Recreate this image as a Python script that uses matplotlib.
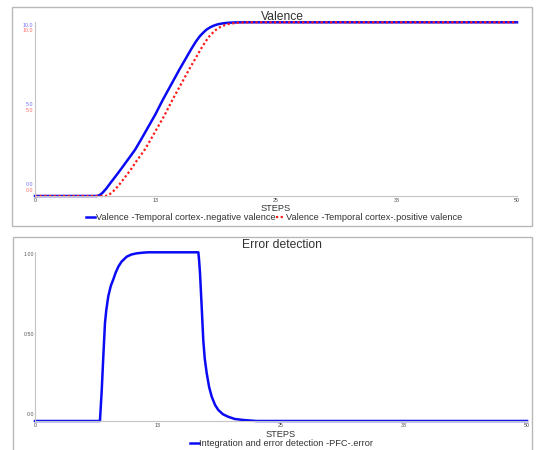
import matplotlib
matplotlib.use("Agg")
import matplotlib.pyplot as plt
from matplotlib.patches import Rectangle

plt.rcParams['font.family'] = ['Liberation Sans', 'DejaVu Sans']

# ---------------------------------------------
# data
# ---------------------------------------------
neg_steps = [0, 6.4, 6.7, 7.0, 7.4, 7.8, 8.2, 8.6, 9.0, 9.5, 10.0, 10.4, 11.0, 12.45, 13.25,
             15.0, 16.25, 16.7, 17.1, 17.5, 17.8, 18.2, 18.6, 19.0, 19.5, 20.0, 20.6, 21.5, 50]
neg_vals = [0, 0, 0.05, 0.18, 0.43, 0.73, 1.02, 1.31, 1.61, 1.99, 2.37, 2.68, 3.25, 4.66, 5.53,
            7.3, 8.5, 8.9, 9.2, 9.43, 9.58, 9.72, 9.82, 9.89, 9.94, 9.97, 9.99, 10, 10]

pos_steps = [0, 7.3, 7.6, 7.95, 8.4, 8.85, 9.25, 9.65, 10.05, 10.5, 11.0, 11.4, 12.0, 13.45, 14.25,
             16.0, 17.25, 17.7, 18.1, 18.5, 18.8, 19.2, 19.6, 20.0, 20.5, 21.0, 21.6, 22.5, 50]
pos_vals = [0, 0, 0.05, 0.18, 0.43, 0.73, 1.02, 1.31, 1.61, 1.99, 2.37, 2.68, 3.25, 4.66, 5.53,
            7.3, 8.5, 8.9, 9.2, 9.43, 9.58, 9.72, 9.82, 9.89, 9.94, 9.97, 9.99, 10, 10]

err_steps = [0, 6.6, 6.78, 6.94, 7.11, 7.25, 7.45, 7.7, 7.96, 8.2, 8.47, 8.8, 9.32, 9.8, 10.34,
             11.0, 11.5, 16.6, 16.68, 16.77, 16.94, 17.1, 17.25, 17.45, 17.7, 17.96, 18.3, 18.63,
             19.1, 19.64, 20.3, 21.17, 22.5, 50]
err_vals = [0, 0, 0.18, 0.38, 0.58, 0.66, 0.74, 0.80, 0.84, 0.88, 0.915, 0.945, 0.974, 0.987, 0.994,
            0.998, 1.0, 1.0, 0.95, 0.875, 0.677, 0.48, 0.37, 0.283, 0.2, 0.144, 0.095, 0.065,
            0.04, 0.025, 0.012, 0.006, 0, 0]

x_ticks = [0, 12.5, 25, 37.5, 50]
x_labels = ["0", "13", "25", "38", "50"]
val_labels = ["10.0", "5.0", "0.0"]
err_labels = ["1.00", "0.50", "0.0"]

W, H = 536, 450
BLUE = "#0a0af5"
RED = "#ff1a1a"
GRID = "#c4c4c4"


def px(x, y):
    # pixel coords -> figure fraction
    return x / W, 1 - y / H


fig = plt.figure(figsize=(W / 100, H / 100), dpi=100)

# panel frames
for (x0, y0, x1, y1) in [(12, 7, 532, 226), (13, 237, 532, 452)]:
    fig.patches.append(Rectangle(px(x0, y1), (x1 - x0) / W, (y1 - y0) / H,
                                 transform=fig.transFigure, fill=False,
                                 edgecolor="#b8b8b8", lw=1.0))


def style_axes(ax, ymax):
    ax.set_xlim(0, 50)
    ax.set_ylim(0, ymax)
    for s in ["top", "right"]:
        ax.spines[s].set_visible(False)
    for s in ["left", "bottom"]:
        ax.spines[s].set_color(GRID)
        ax.spines[s].set_linewidth(0.8)
    ax.set_xticks(x_ticks)
    ax.set_xticklabels(x_labels, fontsize=3.8, color="#444444")
    ax.set_yticks([])
    ax.tick_params(axis="x", length=0, pad=1.2)
    ax.set_facecolor("none")


# ---------------------------------------------
# Valence panel
# ---------------------------------------------
l, b = px(35, 196)
r, t = px(517, 22.3)
ax1 = fig.add_axes([l, b, r - l, t - b])
style_axes(ax1, 10)
ax1.plot(neg_steps, neg_vals, color=BLUE, lw=1.8, clip_on=False,
         label="Valence -Temporal cortex-.negative valence")
ax1.plot(pos_steps, pos_vals, color=RED, lw=1.6, ls=(0, (1, 1.1)), clip_on=False,
         label="Valence -Temporal cortex-.positive valence")

for lab, yb, yr in zip(val_labels, [25.7, 105, 184], [31, 110, 190]):
    fig.text(*px(33, yb), lab, fontsize=3.8, color="#6f6fff", ha="right", va="center")
    fig.text(*px(33, yr), lab, fontsize=3.8, color="#ff6a6a", ha="right", va="center")

fig.text(*px(282, 17), "Valence", fontsize=8.7, color="#333333", ha="center", va="center")
fig.text(*px(276, 208.5), "STEPS", fontsize=6.7, color="#333333", ha="center", va="center")
fig.legend(handles=ax1.get_lines(), loc="center", bbox_to_anchor=px(274, 218),
           ncol=2, frameon=False, fontsize=6.7, handlelength=1.0, handletextpad=0.05,
           columnspacing=0.1, borderpad=0, borderaxespad=0, labelcolor="#333333")

# ---------------------------------------------
# Error detection panel
# ---------------------------------------------
l, b = px(35, 421)
r, t = px(527, 252.3)
ax2 = fig.add_axes([l, b, r - l, t - b])
style_axes(ax2, 1.0)
ax2.plot(err_steps, err_vals, color=BLUE, lw=1.8, clip_on=False,
         label="Integration and error detection -PFC-.error")

for lab, yy in zip(err_labels, [255, 334.3, 414.3]):
    fig.text(*px(34.5, yy), lab, fontsize=3.8, color="#555555", ha="right", va="center")

fig.text(*px(282, 245), "Error detection", fontsize=8.7, color="#333333", ha="center", va="center")
fig.text(*px(281, 434.5), "STEPS", fontsize=6.7, color="#333333", ha="center", va="center")
fig.legend(handles=ax2.get_lines(), loc="center", bbox_to_anchor=px(281.5, 443.5),
           ncol=1, frameon=False, fontsize=6.7, handlelength=1.0, handletextpad=0.05,
           borderpad=0, borderaxespad=0, labelcolor="#333333")

fig.savefig("out.png", dpi=100)
